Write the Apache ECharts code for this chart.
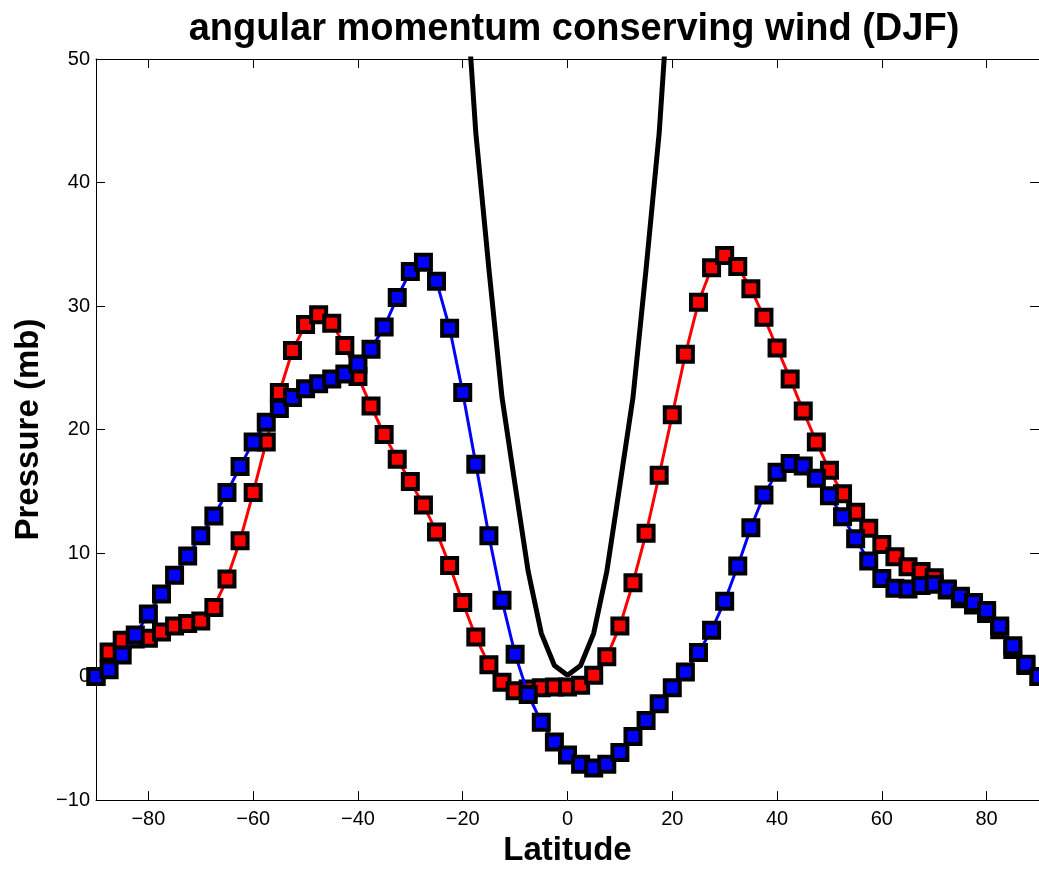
<!DOCTYPE html>
<html><head><meta charset="utf-8">
<script src="https://cdn.jsdelivr.net/npm/echarts@6/dist/echarts.min.js"></script>
<style>html,body{margin:0;padding:0;background:#fff}#c{width:1039px;height:872px}</style>
</head><body><div id="c"></div>
<script>
const latitudes = [-90,-87.5,-85,-82.5,-80,-77.5,-75,-72.5,-70,-67.5,-65,-62.5,-60,-57.5,-55,-52.5,-50,-47.5,-45,-42.5,-40,-37.5,-35,-32.5,-30,-27.5,-25,-22.5,-20,-17.5,-15,-12.5,-10,-7.5,-5,-2.5,0,2.5,5,7.5,10,12.5,15,17.5,20,22.5,25,27.5,30,32.5,35,37.5,40,42.5,45,47.5,50,52.5,55,57.5,60,62.5,65,67.5,70,72.5,75,77.5,80,82.5,85,87.5,90];
const redValues = [0.0,2.0,2.95,3.05,3.1,3.6,4.1,4.3,4.5,5.6,7.9,11.0,14.9,19.0,23.0,26.4,28.5,29.3,28.6,26.8,24.3,21.9,19.6,17.6,15.8,13.9,11.7,9.0,6.0,3.2,0.95,-0.45,-1.15,-1.0,-0.9,-0.85,-0.85,-0.7,0.1,1.6,4.1,7.6,11.6,16.3,21.2,26.1,30.3,33.1,34.1,33.2,31.4,29.1,26.6,24.1,21.5,19.0,16.7,14.8,13.3,12.0,10.7,9.7,8.9,8.5,8.0,7.0,6.3,5.8,5.1,3.8,2.2,0.9,0.0];
const blueValues = [0.0,0.55,1.75,3.37,5.06,6.68,8.2,9.77,11.4,13.0,14.9,17.0,19.0,20.6,21.7,22.6,23.3,23.7,24.1,24.5,25.3,26.5,28.3,30.7,32.8,33.55,32.0,28.2,23.0,17.2,11.4,6.17,1.8,-1.45,-3.7,-5.3,-6.35,-7.1,-7.4,-7.1,-6.15,-4.85,-3.55,-2.2,-0.9,0.38,1.95,3.76,6.1,8.95,12.05,14.7,16.55,17.25,17.05,16.05,14.65,12.95,11.15,9.35,7.95,7.15,7.1,7.38,7.47,7.1,6.5,6.0,5.35,4.1,2.5,1.0,0.0];
const blackLatitudes = [-20,-17.5,-15,-12.5,-10,-7.5,-5,-2.5,0,2.5,5,7.5,10,12.5,15,17.5,20];
const blackValues = [59.8,44,33,22.6,15.5,8.5,3.5,0.9,0.1,0.9,3.5,8.5,15.5,22.6,33,44,59.8];
const xTicks = [-80,-60,-40,-20,0,20,40,60,80];
const yTicks = [-10,0,10,20,30,40,50];
const titleText = 'angular momentum conserving wind (DJF)';
const xLabel = 'Latitude';
const yLabel = 'Pressure (mb)';

const FONT = '"Liberation Sans", Arial, Helvetica, sans-serif';
const fmt = v => String(v).replace('-', '\u2212');
const pairs = (xs, ys) => xs.map((x, i) => [x, ys[i]]);
const chart = echarts.init(document.getElementById('c'), null, {renderer: 'canvas'});

const lineAx = {onZero: false, lineStyle: {color: '#000', width: 1}};
const tickX = {inside: true, length: 9, customValues: xTicks, lineStyle: {color: '#000', width: 1}};
const tickY = {inside: true, length: 9, customValues: yTicks, lineStyle: {color: '#000', width: 1}};
const lab = {fontFamily: FONT, fontSize: 20, color: '#000', formatter: fmt};
const nameStyle = {fontFamily: FONT, fontSize: 33, fontWeight: 'bold', color: '#000'};

const markerSeries = (name, vals, color, z) => ({
  name, type: 'line', data: pairs(latitudes, vals), z,
  symbol: 'rect', symbolSize: 15, clip: true, silent: true,
  itemStyle: {color: color, borderColor: '#000', borderWidth: 4},
  lineStyle: {color: color, width: 3},
  emphasis: {disabled: true}
});

chart.setOption({
  animation: false,
  backgroundColor: '#fff',
  title: {text: titleText, left: 569, top: 6, textAlign: 'center',
    textStyle: {fontFamily: FONT, fontSize: 38, fontWeight: 'bold', color: '#000'}},
  grid: {left: 96, top: 59, width: 944, height: 743.5, containLabel: false},
  xAxis: [
    {type: 'value', min: -90, max: 90, position: 'bottom', axisLine: lineAx, axisTick: tickX,
     axisLabel: Object.assign({customValues: xTicks, margin: 9}, lab), splitLine: {show: false},
     name: xLabel, nameLocation: 'middle', nameGap: 32, nameTextStyle: nameStyle},
    {type: 'value', min: -90, max: 90, position: 'top', axisLine: lineAx, axisTick: tickX,
     axisLabel: {show: false}, splitLine: {show: false}}
  ],
  yAxis: [
    {type: 'value', min: -10, max: 50, interval: 10, position: 'left', axisLine: lineAx, axisTick: tickY,
     axisLabel: Object.assign({customValues: yTicks, margin: 6}, lab), splitLine: {show: false},
     name: yLabel, nameLocation: 'middle', nameGap: 50, nameTextStyle: nameStyle},
    {type: 'value', min: -10, max: 50, interval: 10, position: 'right', axisLine: lineAx, axisTick: tickY,
     axisLabel: {show: false}, splitLine: {show: false}}
  ],
  series: [
    {name: 'amc', type: 'line', data: pairs(blackLatitudes, blackValues), z: 1,
     symbol: 'none', clip: true, silent: true, lineStyle: {color: '#000', width: 5}},
    markerSeries('red', redValues, '#ff0000', 2),
    markerSeries('blue', blueValues, '#0000ff', 3)
  ]
});
</script></body></html>
